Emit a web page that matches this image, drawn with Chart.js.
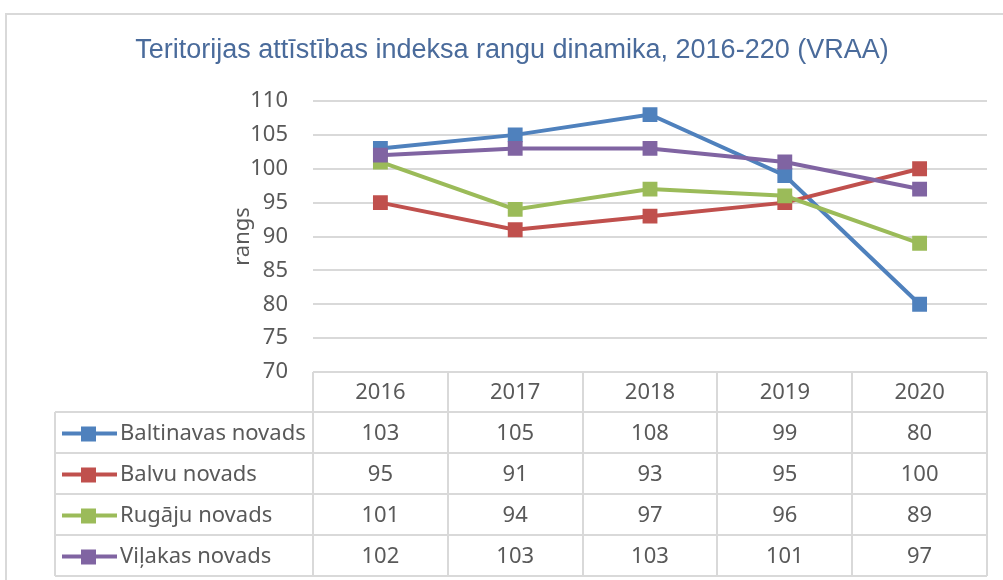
<!DOCTYPE html>
<html>
<head>
<meta charset="utf-8">
<script src="https://cdn.jsdelivr.net/npm/chart.js@4/dist/chart.umd.min.js"></script>
<style>
  html, body { margin: 0; padding: 0; background: #fff; }
  #wrap { position: relative; width: 1003px; height: 580px; overflow: hidden; }
  #box { position: absolute; left: 5px; top: 13px; width: 1020px; height: 600px; border: 2px solid #d9d9d9; box-sizing: border-box; }
  canvas { position: absolute; left: 0; top: 0; }
</style>
</head>
<body>
<div id="wrap">
  <div id="box"></div>
  <canvas id="chart" width="1003" height="580"></canvas>
</div>
<script>
const TITLE = 'Teritorijas attīstības indeksa rangu dinamika, 2016-220 (VRAA)';
const years = ['2016', '2017', '2018', '2019', '2020'];
const seriesNames = ['Baltinavas novads', 'Balvu novads', 'Rugāju novads', 'Viļakas novads'];
const baltinava = [103, 105, 108, 99, 80];
const balvi = [95, 91, 93, 95, 100];
const rugaji = [101, 94, 97, 96, 89];
const vilaka = [102, 103, 103, 101, 97];
const seriesColors = ['#4f81bd', '#c0504d', '#9bbb59', '#8064a2'];

const TEXT = '#595959';
const GRID = '#d9d9d9';
const FONT = '"Noto Sans", "DejaVu Sans", sans-serif';

const allValues = [baltinava, balvi, rugaji, vilaka];

// row boundaries of the data table under the plot
const tableRows = [372, 412, 453, 494, 535, 576];
const tableLeft = 55;

const tablePlugin = {
    id: 'dataTable',
    afterDraw(chart) {
        const ctx = chart.ctx;
        const x = chart.scales.x;
        const area = chart.chartArea;
        const colW = (area.right - area.left) / years.length;

        ctx.save();
        // title
        ctx.fillStyle = '#4a6b9b';
        ctx.font = '27px "Liberation Sans Narrow", "Liberation Sans", sans-serif';
        ctx.textAlign = 'center';
        ctx.textBaseline = 'middle';
        ctx.fillText(TITLE, 512, 51);

        ctx.strokeStyle = GRID;
        ctx.lineWidth = 2;
        ctx.beginPath();
        // vertical column lines
        for (let i = 0; i <= years.length; i++) {
            const px = Math.round(area.left + i * colW);
            ctx.moveTo(px, tableRows[0]);
            ctx.lineTo(px, tableRows[tableRows.length - 1]);
        }
        ctx.moveTo(tableLeft, tableRows[1]);
        ctx.lineTo(tableLeft, tableRows[tableRows.length - 1]);
        // horizontal row lines
        for (let r = 1; r < tableRows.length; r++) {
            ctx.moveTo(tableLeft, tableRows[r]);
            ctx.lineTo(area.right, tableRows[r]);
        }
        ctx.stroke();

        ctx.fillStyle = TEXT;
        ctx.font = '22px ' + FONT;
        ctx.textAlign = 'center';
        ctx.textBaseline = 'middle';
        years.forEach((y, i) => {
            ctx.fillText(y, x.getPixelForValue(i), (tableRows[0] + tableRows[1]) / 2 + 1);
        });

        allValues.forEach((vals, s) => {
            const cy = (tableRows[s + 1] + tableRows[s + 2]) / 2 + 1;
            vals.forEach((v, i) => {
                ctx.fillText(String(v), x.getPixelForValue(i), cy);
            });
            // legend key
            ctx.strokeStyle = seriesColors[s];
            ctx.lineWidth = 4;
            ctx.beginPath();
            ctx.moveTo(62, cy);
            ctx.lineTo(117, cy);
            ctx.stroke();
            ctx.fillStyle = seriesColors[s];
            ctx.fillRect(81, cy - 7, 15, 15);
            ctx.fillStyle = TEXT;
            ctx.textAlign = 'left';
            ctx.fillText(seriesNames[s], 120, cy);
            ctx.textAlign = 'center';
        });
        ctx.restore();
    }
};

new Chart(document.getElementById('chart'), {
    type: 'line',
    data: {
        labels: years,
        datasets: allValues.map((vals, s) => ({
            label: seriesNames[s],
            data: vals,
            borderColor: seriesColors[s],
            backgroundColor: seriesColors[s],
            borderWidth: 4,
            pointStyle: 'rect',
            pointRadius: 10.5,
            pointBorderWidth: 0,
            tension: 0,
            order: allValues.length - s
        }))
    },
    options: {
        responsive: false,
        animation: false,
        layout: { padding: { left: 230, right: 16, top: 101, bottom: 208 } },
        plugins: {
            legend: { display: false },
            title: { display: false },
            tooltip: { enabled: false }
        },
        scales: {
            x: {
                display: false,
                offset: true
            },
            y: {
                min: 70,
                max: 110,
                afterFit(scale) { scale.width = 83; },
                ticks: {
                    stepSize: 5,
                    color: TEXT,
                    padding: 25,
                    font: { family: FONT, size: 22 }
                },
                grid: { color: GRID, lineWidth: 2, drawTicks: false },
                border: { display: false },
                title: {
                    display: true,
                    text: 'rangs',
                    color: TEXT,
                    font: { family: FONT, size: 22 },
                    padding: 0
                }
            }
        }
    },
    plugins: [tablePlugin]
});
</script>
</body>
</html>
